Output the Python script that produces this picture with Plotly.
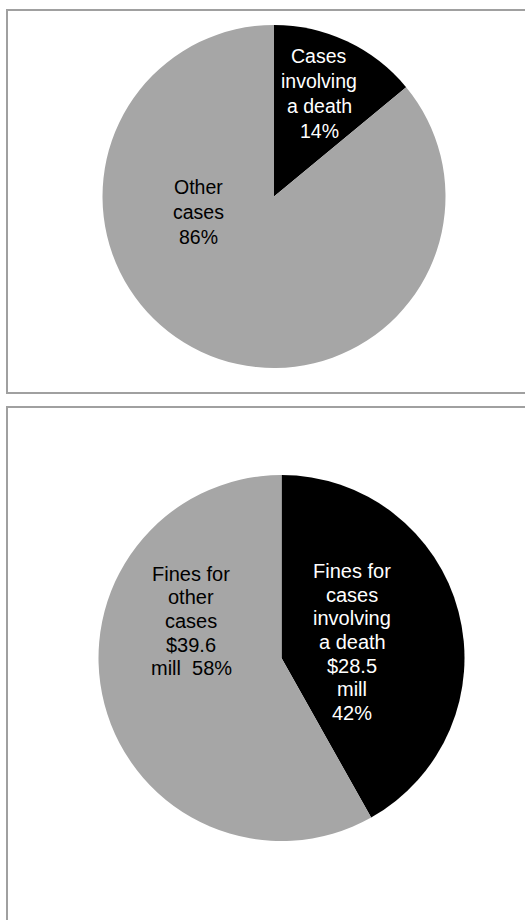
import plotly.graph_objects as go

# Share of cases
case_names = ["Cases<br>involving<br>a death", "Other<br>cases"]
case_values = [14, 86]

# Fines in millions of dollars
fine_names = ["Fines for<br>cases<br>involving<br>a death", "Fines for<br>other<br>cases"]
fine_values = [28.5, 39.6]

slice_colors = ["#000000", "#a6a6a6"]
label_colors = ["#ffffff", "#000000"]

W, H = 525, 920


def px(x):
    return x / W


def py(y):
    return 1 - y / H


def pct(values):
    total = sum(values)
    return [round(100 * v / total) for v in values]


fig = go.Figure()

# Top pie: centre (274, 196.5), radius 171.5 px
fig.add_trace(go.Pie(
    values=case_values,
    sort=False,
    direction="clockwise",
    rotation=0,
    marker=dict(colors=slice_colors, line=dict(width=0)),
    textinfo="none",
    hoverinfo="skip",
    showlegend=False,
    domain=dict(x=[px(274 - 171.5), px(274 + 171.5)],
                y=[py(196.5 + 171.5), py(196.5 - 171.5)]),
))

# Bottom pie: centre (281.5, 658), radius 183 px
fig.add_trace(go.Pie(
    values=fine_values,
    sort=False,
    direction="clockwise",
    rotation=0,
    marker=dict(colors=slice_colors, line=dict(width=0)),
    textinfo="none",
    hoverinfo="skip",
    showlegend=False,
    domain=dict(x=[px(281.5 - 183), px(281.5 + 183)],
                y=[py(658 + 183), py(658 - 183)]),
))

font_family = "Liberation Sans, Arial, sans-serif"


def add_label(text, cx, cy, pitch, size, color):
    """Centred multi-line label with a fixed line pitch (pixels)."""
    lines = text.split("<br>")
    n = len(lines)
    for i, line in enumerate(lines):
        y = cy + (i - (n - 1) / 2) * pitch
        fig.add_annotation(x=px(cx), y=py(y), xref="paper", yref="paper",
                           text=line, showarrow=False, align="center",
                           xanchor="center", yanchor="middle",
                           font=dict(family=font_family, size=size, color=color))


# Labels for the case pie
case_pct = pct(case_values)
case_text = [f"{n}<br>{p}%" for n, p in zip(case_names, case_pct)]
case_pos = [(319, 93.5), (198, 212)]
for t, (x, y), c in zip(case_text, case_pos, label_colors):
    add_label(t, x, y, 25, 19.5, c)

# Labels for the fines pie
fine_pct = pct(fine_values)
fine_text = [
    f"{fine_names[0]}<br>${fine_values[0]}<br>mill<br>{fine_pct[0]}%",
    f"{fine_names[1]}<br>${fine_values[1]}<br>mill\u00a0\u00a0{fine_pct[1]}%",
]
fine_pos = [(352, 642), (191, 621)]
for t, (x, y), c in zip(fine_text, fine_pos, label_colors):
    add_label(t, x, y, 23.7, 20, c)

# Panel frames
frame = dict(color="#a0a0a0", width=2)
fig.add_shape(type="rect", xref="paper", yref="paper",
              x0=px(7), x1=px(535), y0=py(393), y1=py(10), line=frame)
fig.add_shape(type="rect", xref="paper", yref="paper",
              x0=px(7), x1=px(535), y0=py(935), y1=py(407), line=frame)

fig.update_layout(
    width=W, height=H,
    margin=dict(l=0, r=0, t=0, b=0),
    paper_bgcolor="white",
    plot_bgcolor="white",
    showlegend=False,
)

fig.write_html("out.html")
